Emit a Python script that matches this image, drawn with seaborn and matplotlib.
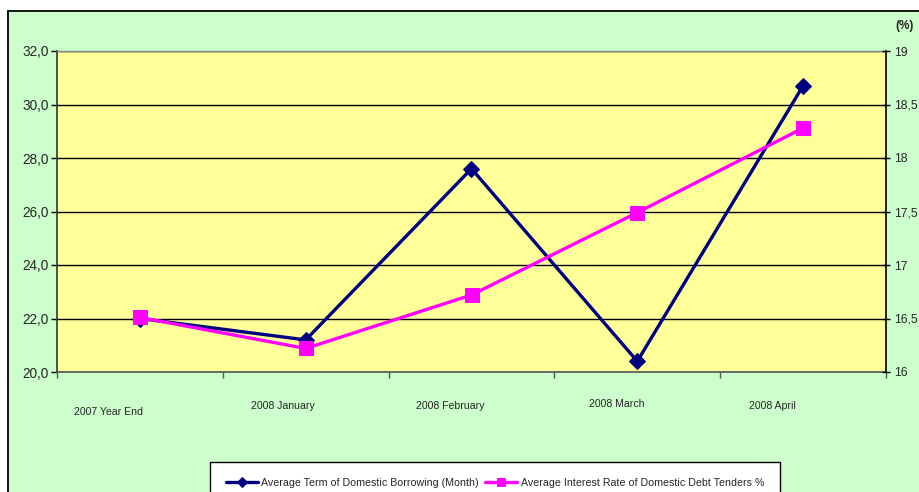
import numpy as np
import pandas as pd
import matplotlib
matplotlib.use("Agg")
import matplotlib.pyplot as plt
import matplotlib.transforms as mtransforms
from matplotlib.patches import Rectangle
from matplotlib.ticker import FuncFormatter, MultipleLocator
import seaborn as sns

categories = ["2007 Year End", "2008 January", "2008 February", "2008 March", "2008 April"]
avg_term = [22.0, 21.2, 27.6, 20.4, 30.7]
avg_rate = [16.51, 16.22, 16.72, 17.49, 18.28]
term_label = "Average Term of Domestic Borrowing (Month)"
rate_label = "Average Interest Rate of Domestic Debt Tenders %"

sns.set_theme(style="white")
plt.rcParams["font.family"] = ["Liberation Sans", "DejaVu Sans"]

W, H = 920, 492
fig = plt.figure(figsize=(W / 100, H / 100), dpi=100, facecolor="white")

# outer chart area frame
fig.patches.append(Rectangle((8 / W, -0.2), 1.2, (H - 11) / H + 0.2, transform=fig.transFigure,
                             facecolor="#CCFFCC", edgecolor="black", lw=1.3, zorder=0))

ax = fig.add_axes([57 / W, 1 - 372 / H, (886 - 57) / W, (372 - 51) / H])
ax.set_facecolor("#FFFF99")
ax2 = ax.twinx()

df = pd.DataFrame({"x": np.arange(len(categories)), "cat": categories,
                   "term": avg_term, "rate": avg_rate})

sns.lineplot(data=df, x="x", y="term", ax=ax, color="#000080", lw=2.4,
             marker="D", markersize=8, markeredgecolor="#000080", label=term_label, legend=False)
sns.lineplot(data=df, x="x", y="rate", ax=ax2, color="#FF00FF", lw=2.4,
             marker="s", markersize=9.5, markeredgecolor="#FF00FF", label=rate_label, legend=False)

ax.set_zorder(1); ax2.set_zorder(2)
ax2.patch.set_visible(False)

ax.set_xlim(-0.5, len(categories) - 0.5)
ax.set_ylim(20, 32)
ax2.set_ylim(16, 19)
ax.yaxis.set_major_locator(MultipleLocator(2))
ax2.yaxis.set_major_locator(MultipleLocator(0.5))
ax.yaxis.set_major_formatter(FuncFormatter(lambda v, p: f"{v:.1f}".replace(".", ",")))
ax2.yaxis.set_major_formatter(FuncFormatter(lambda v, p: f"{v:g}".replace(".", ",")))
ax.set_xticks(np.arange(-0.5, len(categories), 1))
ax.set_xticklabels([])
ax.set_xlabel(""); ax.set_ylabel(""); ax2.set_ylabel("")

ax.grid(axis="y", color="black", lw=1.0)
ax.grid(axis="x", visible=False)
ax.set_axisbelow(True)

for a in (ax, ax2):
    for s in a.spines.values():
        s.set_visible(False)
ax.spines["left"].set_visible(True); ax.spines["left"].set_color("#333333"); ax.spines["left"].set_lw(1.2)
ax.spines["bottom"].set_visible(True); ax.spines["bottom"].set_color("#555555"); ax.spines["bottom"].set_lw(1.2)
ax.spines["top"].set_visible(True); ax.spines["top"].set_color("#888888"); ax.spines["top"].set_lw(1.0)
ax2.spines["right"].set_visible(True); ax2.spines["right"].set_color("black"); ax2.spines["right"].set_lw(1.2)

ax.tick_params(axis="y", which="major", left=True, direction="out", length=4, width=1, labelsize=9.8, pad=2, color="black")
ax.tick_params(axis="x", which="major", bottom=True, direction="out", length=4, width=1, color="#555555")
ax2.tick_params(axis="y", which="major", right=True, direction="inout", length=6, width=1, labelsize=8.8, pad=2.5, color="black")

# category labels (staggered as in the original)
label_dx = [-31, -23, -21, -21, -31]
label_y = [-0.125, -0.106, -0.106, -0.1, -0.106]
trans = mtransforms.blended_transform_factory(ax.transData, ax.transAxes)
for i, cat in enumerate(categories):
    off = mtransforms.ScaledTranslation(label_dx[i] / 100, 0, fig.dpi_scale_trans)
    ax.text(i, label_y[i], cat, transform=trans + off, ha="center", va="center", fontsize=7.6)

fig.text(905 / W, 1 - 26 / H, "(%)", ha="center", va="center", fontsize=8.5, fontweight="bold")

h1, l1 = ax.get_legend_handles_labels()
h2, l2 = ax2.get_legend_handles_labels()
leg = fig.legend(h1 + h2, l1 + l2, loc="upper left", bbox_to_anchor=(210 / W, 1 - 462 / H),
                 ncol=2, fontsize=7.7, frameon=True, fancybox=False, framealpha=1,
                 facecolor="white", edgecolor="black", handlelength=3.0, handletextpad=0.3,
                 columnspacing=0.6, borderpad=1.5, markerscale=0.6, borderaxespad=0)
leg.get_frame().set_linewidth(1.0)

fig.savefig("out.png", dpi=100, facecolor="white")
